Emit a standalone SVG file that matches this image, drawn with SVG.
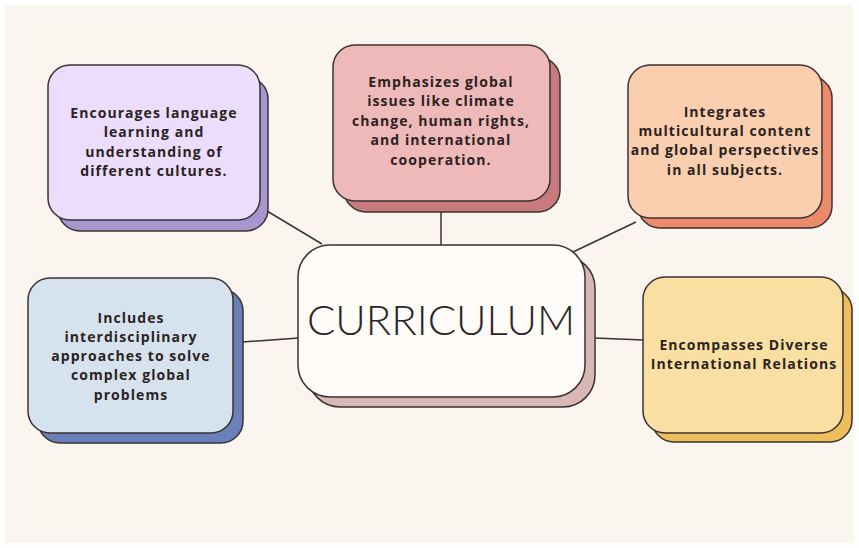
<svg xmlns="http://www.w3.org/2000/svg" width="859" height="548" viewBox="0 0 859 548">
<style>
.front,.shadow{stroke:#3b3232;stroke-width:1.5}
.t{font-family:"Open Sans","Liberation Sans",sans-serif;font-weight:700;font-size:14px;letter-spacing:1.05px;fill:#2b2222;text-anchor:middle}
.title{font-family:Lato,"Open Sans","Liberation Sans",sans-serif;font-weight:300;font-size:42px;fill:#2a2626;text-anchor:middle}
.conn line{stroke:#3b3232;stroke-width:1.5}
</style>
<rect x="0" y="0" width="859" height="548" fill="#fefefe"/>
<rect x="5" y="5" width="849" height="538" fill="#fbf5f0"/>
<g class="conn">
<line x1="262" y1="208" x2="322" y2="244"/>
<line x1="441" y1="210" x2="441" y2="246"/>
<line x1="636" y1="222" x2="573" y2="252"/>
<line x1="242" y1="342" x2="299" y2="338"/>
<line x1="594" y1="338" x2="644" y2="340"/>
</g>
<g id="node-language">
<rect class="shadow" x="58" y="77" width="210" height="154" rx="22" fill="#a797cf"/>
<rect class="front" x="48" y="65" width="212" height="155" rx="22" fill="#ebddfb"/>
<text class="t" x="154" y="118">Encourages language</text>
<text class="t" x="154" y="137">learning and</text>
<text class="t" x="154" y="157">understanding of</text>
<text class="t" x="154" y="176">different cultures.</text>
</g>
<g id="node-global">
<rect class="shadow" x="344" y="57" width="216" height="155" rx="22" fill="#c77b7e"/>
<rect class="front" x="333" y="45" width="217" height="156" rx="22" fill="#efb9b9"/>
<text class="t" x="441" y="87">Emphasizes global</text>
<text class="t" x="441" y="106">issues like climate</text>
<text class="t" x="441" y="126">change, human rights,</text>
<text class="t" x="441" y="145">and international</text>
<text class="t" x="441" y="165">cooperation.</text>
</g>
<g id="node-multicultural">
<rect class="shadow" x="638" y="76" width="194" height="152" rx="22" fill="#ec8b6b"/>
<rect class="front" x="628" y="65" width="194" height="153" rx="22" fill="#f9cfaf"/>
<text class="t" x="725" y="117">Integrates</text>
<text class="t" x="725" y="136">multicultural content</text>
<text class="t" x="725" y="155">and global perspectives</text>
<text class="t" x="725" y="175">in all subjects.</text>
</g>
<g id="node-interdisciplinary">
<rect class="shadow" x="38" y="289" width="205" height="154" rx="22" fill="#6a80b8"/>
<rect class="front" x="28" y="278" width="205" height="155" rx="22" fill="#d6e3ef"/>
<text class="t" x="131" y="323">Includes</text>
<text class="t" x="131" y="342">interdisciplinary</text>
<text class="t" x="131" y="361">approaches to solve</text>
<text class="t" x="131" y="380">complex global</text>
<text class="t" x="131" y="400">problems</text>
</g>
<g id="node-relations">
<rect class="shadow" x="652" y="288" width="200" height="154" rx="22" fill="#efbe5c"/>
<rect class="front" x="643" y="277" width="200" height="156" rx="22" fill="#f9e0a2"/>
<text class="t" x="744" y="350">Encompasses Diverse</text>
<text class="t" x="744" y="369">International Relations</text>
</g>
<g id="node-curriculum">
<rect class="shadow" x="308" y="256" width="287" height="151" rx="32" fill="#d7b8b5"/>
<rect class="front" x="298" y="245" width="287" height="152" rx="32" fill="#fefbf8"/>
<text class="title" x="441" y="335" textLength="268" lengthAdjust="spacingAndGlyphs">CURRICULUM</text>
</g>
</svg>
